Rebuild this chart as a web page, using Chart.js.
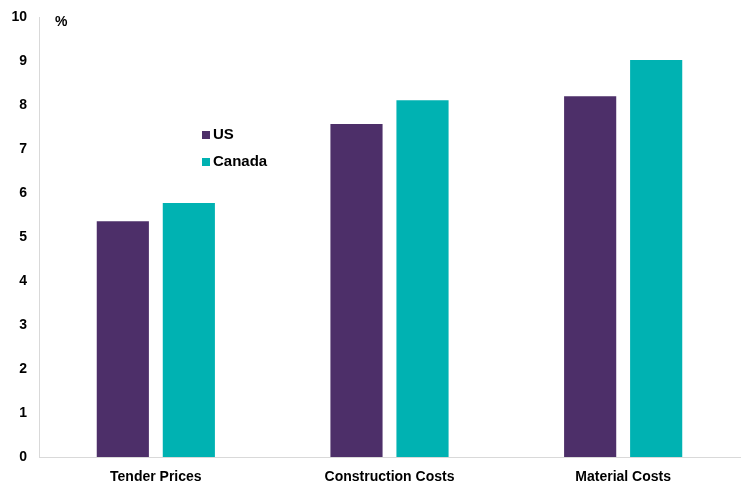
<!DOCTYPE html>
<html>
<head>
<meta charset="utf-8">
<script src="https://cdn.jsdelivr.net/npm/chart.js@4/dist/chart.umd.min.js"></script>
<style>
  html, body { margin: 0; padding: 0; background: #fff; }
  #wrap { width: 743px; height: 482px; }
</style>
</head>
<body>
<div id="wrap"><canvas id="costChart" width="743" height="482"></canvas></div>
<script>
// Categorías y valores (%)
var categories = ['Tender Prices', 'Construction Costs', 'Material Costs'];
var usValues = [5.36, 7.57, 8.2];
var canadaValues = [5.77, 8.11, 9.02];
var yTicks = [0, 1, 2, 3, 4, 5, 6, 7, 8, 9, 10];

var font = 'Liberation Sans, Arial, sans-serif';

// Leyenda y unidad dibujadas a mano dentro del área del gráfico
var extrasPlugin = {
    id: 'extras',
    afterDraw: function(chart) {
        var ctx = chart.ctx;
        ctx.save();
        ctx.font = 'bold 14px ' + font;
        ctx.fillStyle = '#000';
        ctx.textBaseline = 'middle';
        ctx.textAlign = 'left';
        ctx.fillText('%', 55, 22);

        chart.data.datasets.forEach(function(ds, i) {
            var y = 135 + i * 27;
            ctx.fillStyle = ds.backgroundColor;
            ctx.fillRect(202, y - 4, 8, 8);
            ctx.fillStyle = '#000';
            ctx.font = 'bold 15px ' + font;
            ctx.fillText(ds.label, 213, y);
        });
        ctx.restore();
    }
};

var chart = new Chart(document.getElementById('costChart'), {
    type: 'bar',
    data: {
        labels: categories,
        datasets: [{
            label: 'US',
            data: usValues,
            backgroundColor: '#4d2f69',
            categoryPercentage: 0.565,
            barPercentage: 0.79
        }, {
            label: 'Canada',
            data: canadaValues,
            backgroundColor: '#00b2b2',
            categoryPercentage: 0.565,
            barPercentage: 0.79
        }]
    },
    options: {
        responsive: false,
        animation: false,
        layout: { padding: { top: 17, right: 3, left: 0, bottom: 0 } },
        plugins: {
            legend: { display: false },
            tooltip: { enabled: false }
        },
        scales: {
            x: {
                grid: { display: false, drawTicks: false },
                border: { color: '#d9d9d9', width: 1 },
                ticks: {
                    color: '#000',
                    font: { family: font, size: 14, weight: 'bold' },
                    padding: 12
                },
                afterFit: function(scale) {
                    scale.height = 25;
                    scale.paddingLeft = 0;
                    scale.paddingRight = 0;
                }
            },
            y: {
                min: 0,
                max: 10,
                afterBuildTicks: function(scale) {
                    scale.ticks = yTicks.map(function(v) { return { value: v }; });
                },
                grid: { display: false, drawTicks: false },
                border: { color: '#d9d9d9', width: 1 },
                ticks: {
                    color: '#000',
                    font: { family: font, size: 14, weight: 'bold' },
                    padding: 12
                },
                afterFit: function(scale) {
                    scale.width = 39;
                    scale.paddingTop = 0;
                    scale.paddingBottom = 0;
                }
            }
        }
    },
    plugins: [extrasPlugin]
});
</script>
</body>
</html>
